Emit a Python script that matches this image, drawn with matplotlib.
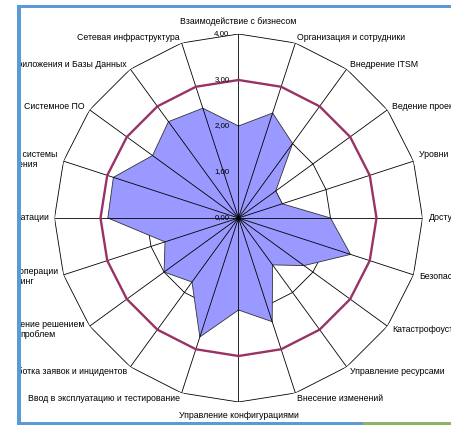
import numpy as np
import matplotlib.pyplot as plt
from matplotlib.patches import Rectangle

plt.rcParams['font.family'] = ['Liberation Sans', 'DejaVu Sans']

# process areas, clockwise from the top
categories = [
    'Взаимодействие с бизнесом',
    'Организация и сотрудники',
    'Внедрение ITSM',
    'Ведение проектов',
    'Уровни обслуживания\n(SLA)',
    'Доступность',
    'Безопасность',
    'Катастрофоустойчивость',
    'Управление ресурсами',
    'Внесение изменений',
    'Управление конфигурациями',
    'Ввод в эксплуатацию и тестирование',
    'Обработка заявок и инцидентов',
    'Управление решением\nпроблем',
    'Повседневные операции\nи мониторинг',
    'Процедуры эксплуатации',
    'Дисковые системы\nхранения',
    'Системное ПО',
    'Приложения и Базы Данных',
    'Сетевая инфраструктура',
]
scores = [2.0, 2.4, 2.0, 1.0, 1.0, 2.0, 2.56, 1.76, 1.26, 2.37,
          2.0, 2.72, 1.72, 2.0, 1.68, 2.84, 2.86, 2.31, 2.59, 2.51]
target = [3.0] * len(categories)
ticks = [0, 1, 2, 3, 4]
tick_labels = ['0,00', '1,00', '2,00', '3,00', '4,00']

W, H = 452, 429
fig = plt.figure(figsize=(W / 100, H / 100), dpi=100)
cx, cy, R = 238.5, 218, 184
ax = fig.add_axes([(cx - R) / W, (H - cy - R) / H, 2 * R / W, 2 * R / H],
                  projection='polar')
ax.set_theta_offset(np.pi / 2)
ax.set_theta_direction(-1)
ax.set_ylim(0, ticks[-1])
ax.grid(False)
ax.set_xticks([])
ax.set_yticks([])
ax.spines['polar'].set_visible(False)

n = len(categories)
theta = np.arange(n) * 2 * np.pi / n
th = np.append(theta, theta[0])

def closed(v):
    return list(v) + [v[0]]

# polygon grid
for r in ticks[1:]:
    ax.plot(th, [r] * (n + 1), color='black', lw=0.6, zorder=1)

ax.fill(th, closed(scores), facecolor='#9999ff', edgecolor='#333333',
        lw=0.6, zorder=2)

# spokes
for t in theta:
    ax.plot([t, t], [0, ticks[-1]], color='black', lw=0.6, zorder=3)

ax.plot(th, closed(target), color='#993366', lw=1.7, zorder=4)

for r, lbl in zip(ticks, tick_labels):
    ax.annotate(lbl, xy=(0, r), xytext=(-9, 0), textcoords='offset pixels',
                ha='right', va='center', fontsize=5.7, zorder=5)

for t, name in zip(theta, categories):
    s, c = np.sin(t), np.cos(t)
    if abs(s) < 0.01:
        ha, gap = 'center', 13
    else:
        ha, gap = ('left' if s > 0 else 'right'), 6
    ax.annotate(name, xy=(t, ticks[-1]), xytext=(gap * s, gap * c),
                textcoords='offset pixels', ha=ha, va='center',
                multialignment='center', fontsize=6.3, zorder=5)

# window frame
def box(x0, y0, x1, y1, color):
    fig.add_artist(Rectangle((x0 / W, 1 - y1 / H), (x1 - x0) / W, (y1 - y0) / H,
                             transform=fig.transFigure, facecolor=color,
                             edgecolor='none', zorder=10))

box(0, 0, 17, H, 'white')
box(0, 0, W, 4.7, 'white')
box(0, 425, W, H, 'white')
box(17, 4.7, W, 8, '#5b9bd5')
box(17, 4.7, 21, 425, '#5b9bd5')
box(17, 421.7, 363, 425, '#5b9bd5')
box(363, 421.7, W, 425, '#8db36b')

fig.savefig('out.png', dpi=100)
